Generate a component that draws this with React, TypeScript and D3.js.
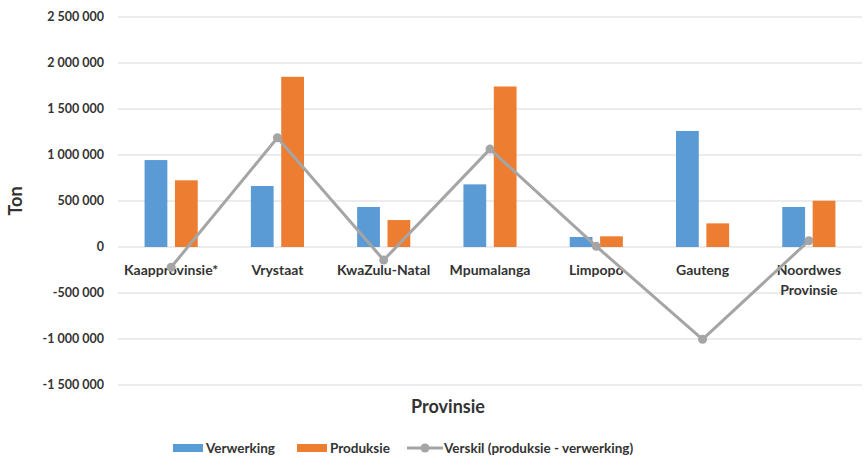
import React, { useEffect, useRef } from 'react';
import * as d3 from 'd3';

// provinces along the x axis (label lines split with \n)
const provinces = [
  'Kaapprovinsie*',
  'Vrystaat',
  'KwaZulu-Natal',
  'Mpumalanga',
  'Limpopo',
  'Gauteng',
  'Noordwes\nProvinsie',
];

// tonnes
const verwerking = [945000, 663000, 435000, 681000, 109000, 1261000, 435000];
const produksie = [725000, 1850000, 293000, 1745000, 116000, 257000, 503000];
const verskil = [-220000, 1187000, -142000, 1064000, 7000, -1004000, 68000];

const yTicks = [-1500000, -1000000, -500000, 0, 500000, 1000000, 1500000, 2000000, 2500000];

const seriesNames = ['Verwerking', 'Produksie'];
const seriesColors = ['#5B9BD5', '#ED7D31'];
const lineColor = '#A5A5A5';
const lineName = 'Verskil (produksie - verwerking)';

const W = 867;
const H = 459;
const FONT = 'Lato, "Open Sans", sans-serif';
const TEXT = '#333333';

const locale = d3.formatLocale({
  decimal: ',',
  thousands: '\u00a0',
  grouping: [3],
  currency: ['', ''],
  minus: '-',
});
const fmt = locale.format(',d');

const Chart = () => {
  const svgRef = useRef(null);

  useEffect(() => {
    const svg = d3.select(svgRef.current);
    svg.selectAll('*').remove();

    const left = 118;
    const right = 862;
    const top = 17;
    const bottom = 385;

    const x = d3.scaleBand().domain(provinces).range([left, right]).paddingInner(0.5).paddingOuter(0.25);
    const inner = d3.scaleBand().domain(seriesNames).range([0, x.bandwidth()]).paddingInner(0.25);
    const y = d3.scaleLinear().domain([-1500000, 2500000]).range([bottom, top]);

    // gridlines
    svg.append('g')
      .selectAll('line')
      .data(yTicks)
      .join('line')
      .attr('x1', left)
      .attr('x2', right)
      .attr('y1', d => y(d))
      .attr('y2', d => y(d))
      .attr('stroke', '#D9D9D9')
      .attr('stroke-width', 1.2);

    // y tick labels
    svg.append('g')
      .selectAll('text')
      .data(yTicks)
      .join('text')
      .attr('x', 104)
      .attr('y', d => y(d))
      .attr('dy', '0.35em')
      .attr('text-anchor', 'end')
      .attr('font-family', FONT)
      .attr('font-weight', 'bold')
      .attr('font-size', 12.5)
      .attr('fill', TEXT)
      .text(d => fmt(d));

    // bars
    const allSeries = [verwerking, produksie];
    allSeries.forEach((vals, si) => {
      svg.append('g')
        .selectAll('rect')
        .data(vals)
        .join('rect')
        .attr('x', (d, i) => x(provinces[i]) + inner(seriesNames[si]))
        .attr('width', inner.bandwidth())
        .attr('y', d => y(Math.max(0, d)))
        .attr('height', d => Math.abs(y(d) - y(0)))
        .attr('fill', seriesColors[si]);
    });

    // category labels
    const labels = svg.append('g')
      .selectAll('text')
      .data(provinces)
      .join('text')
      .attr('x', d => x(d) + x.bandwidth() / 2)
      .attr('y', y(0) + 28)
      .attr('text-anchor', 'middle')
      .attr('font-family', FONT)
      .attr('font-weight', 'bold')
      .attr('font-size', 14)
      .attr('fill', TEXT);
    labels.each(function (d) {
      const parts = d.split('\n');
      const t = d3.select(this);
      parts.forEach((p, k) => {
        t.append('tspan')
          .attr('x', x(d) + x.bandwidth() / 2)
          .attr('dy', k === 0 ? 0 : 20)
          .text(p);
      });
    });

    // difference line
    const cx = (i) => x(provinces[i]) + x.bandwidth() / 2;
    const line = d3.line()
      .x((d, i) => cx(i))
      .y(d => y(d));
    svg.append('path')
      .datum(verskil)
      .attr('d', line)
      .attr('fill', 'none')
      .attr('stroke', lineColor)
      .attr('stroke-width', 3)
      .attr('stroke-linejoin', 'round');
    svg.append('g')
      .selectAll('circle')
      .data(verskil)
      .join('circle')
      .attr('cx', (d, i) => cx(i))
      .attr('cy', d => y(d))
      .attr('r', 4.5)
      .attr('fill', lineColor);

    // axis titles
    svg.append('text')
      .attr('transform', `translate(22, ${y(500000)}) rotate(-90)`)
      .attr('text-anchor', 'middle')
      .attr('font-family', FONT)
      .attr('font-weight', 'bold')
      .attr('font-size', 18)
      .attr('fill', TEXT)
      .text('Ton');

    svg.append('text')
      .attr('x', 448)
      .attr('y', 413)
      .attr('text-anchor', 'middle')
      .attr('font-family', FONT)
      .attr('font-weight', 'bold')
      .attr('font-size', 18)
      .attr('fill', TEXT)
      .text('Provinsie');

    // legend
    const ly = 448;
    const legend = svg.append('g');
    const swatchX = [173, 297];
    seriesNames.forEach((name, si) => {
      legend.append('rect')
        .attr('x', swatchX[si])
        .attr('y', ly - 4)
        .attr('width', 30)
        .attr('height', 8)
        .attr('fill', seriesColors[si]);
      legend.append('text')
        .attr('x', swatchX[si] + 33)
        .attr('y', ly)
        .attr('dy', '0.35em')
        .attr('font-family', FONT)
        .attr('font-weight', 'bold')
        .attr('font-size', 13.5)
        .attr('fill', TEXT)
        .text(name);
    });
    legend.append('line')
      .attr('x1', 407)
      .attr('x2', 443)
      .attr('y1', ly)
      .attr('y2', ly)
      .attr('stroke', lineColor)
      .attr('stroke-width', 3);
    legend.append('circle')
      .attr('cx', 425)
      .attr('cy', ly)
      .attr('r', 4.5)
      .attr('fill', lineColor);
    legend.append('text')
      .attr('x', 444)
      .attr('y', ly)
      .attr('dy', '0.35em')
      .attr('font-family', FONT)
      .attr('font-weight', 'bold')
      .attr('font-size', 13.5)
      .attr('fill', TEXT)
      .text(lineName);
  }, []);

  return <svg ref={svgRef} width={W} height={H} style={{ position: 'absolute', left: 0, top: 0, background: '#fff' }} />;
};

export default function App() {
  return <Chart />;
}
